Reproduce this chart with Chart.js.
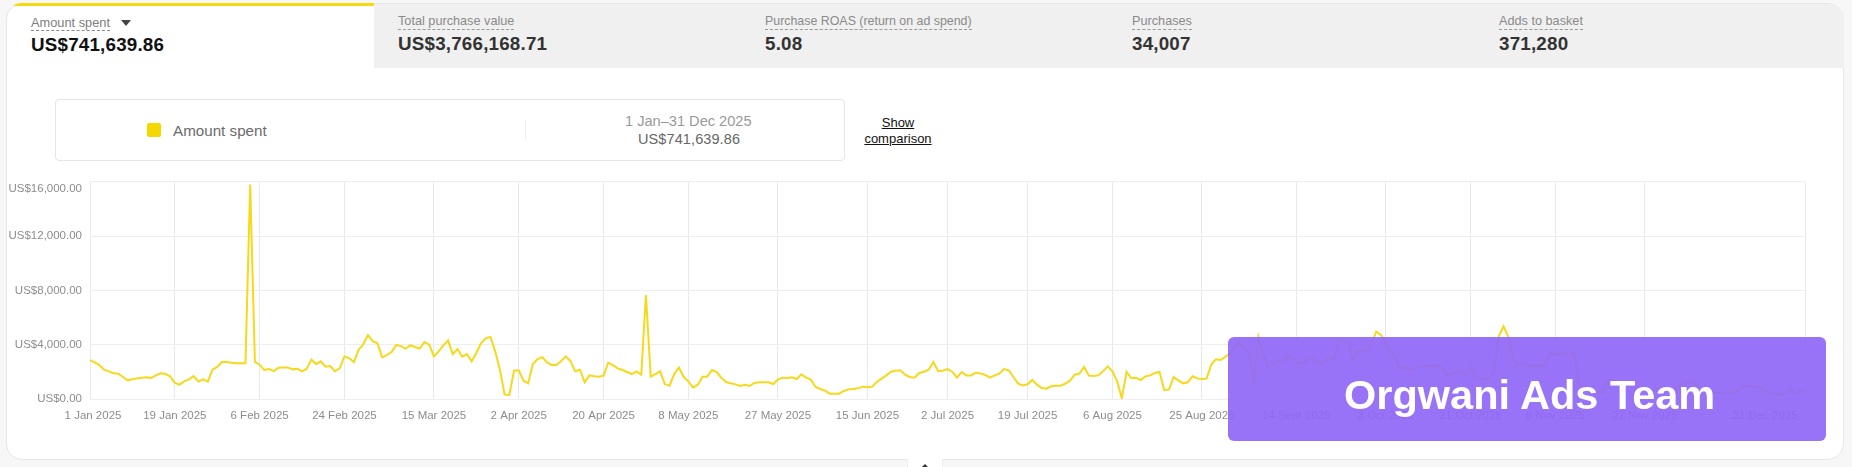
<!DOCTYPE html>
<html>
<head>
<meta charset="utf-8">
<script src="https://cdn.jsdelivr.net/npm/chart.js@4"></script>
<style>
html,body{margin:0;padding:0;width:1852px;height:467px;overflow:hidden;background:#f7f7f7;font-family:"Liberation Sans",Arial,sans-serif}
#card{position:absolute;left:6px;top:3px;width:1836px;height:455px;background:#fff;border:1px solid #e6e6e6;border-radius:16px;overflow:hidden;box-sizing:content-box}
#legend{position:absolute;left:55px;top:99px;width:788px;height:60px;border:1px solid #e6e6e6;border-radius:4px;background:#fff}
#sw{position:absolute;left:147px;top:123px;width:14px;height:14px;border-radius:2px;background:#f5d800}
.abs{position:absolute;white-space:nowrap}
canvas{position:absolute;left:0;top:167px}
#wm{position:absolute;left:1228px;top:337px;width:598px;height:104px;border-radius:6px;background:rgba(144,103,246,.92)}
#wmt{position:absolute;left:1228px;top:337px;width:598px;height:104px;color:#fff;font-weight:700;font-size:41.5px;white-space:nowrap}
#wmt span{position:absolute;left:116px;top:33px;line-height:50px}
#nub{position:absolute;left:907px;top:459px;width:36px;height:8px;background:#fff;border-left:1px solid #eee;border-right:1px solid #eee;box-sizing:border-box}
#nubg{position:absolute;left:922px;top:464px;width:0;height:0;border-left:3px solid transparent;border-right:3px solid transparent;border-bottom:3px solid #333}
</style>
</head>
<body>
<div id="card"></div>
<div style="position:absolute;left:6px;top:3px;width:1838px;height:65px;overflow:hidden;border-radius:16px 16px 0 0">
 <div style="position:absolute;left:368px;top:1px;right:0;bottom:0;background:#f0f0f0"></div>
 <div style="position:absolute;left:8px;top:0;width:360px;height:3px;background:#f5d90a"></div>
</div>
<div class="abs" style="left:31px;top:15px;font-size:12.8px;line-height:15px;color:#7d7d7d;border-bottom:1px dashed #888">Amount spent</div>
<div class="abs" style="left:121px;top:20px;width:0;height:0;border-left:5px solid transparent;border-right:5px solid transparent;border-top:6px solid #444"></div>
<div class="abs" style="left:31px;top:34px;font-size:18.8px;line-height:22px;font-weight:700;color:#111;letter-spacing:.2px">US$741,639.86</div>
<div id="tabTexts"></div>
<div id="legend"></div>
<div id="sw"></div>
<div class="abs" style="left:173px;top:122px;font-size:15.2px;line-height:18px;color:#6b6b6b">Amount spent</div>
<div class="abs" style="left:525px;top:120px;width:1px;height:20px;background:#eee"></div>
<div class="abs" style="left:625px;top:113px;font-size:14.6px;line-height:16px;color:#999">1 Jan&#8211;31 Dec 2025</div>
<div class="abs" style="left:638px;top:131px;font-size:14.5px;line-height:16px;color:#666;font-weight:400;letter-spacing:.1px">US$741,639.86</div>
<div class="abs" style="left:858px;top:115px;width:80px;text-align:center;font-size:13px;line-height:16px;color:#111;text-decoration:underline">Show<br>comparison</div>
<canvas id="c" width="1852" height="283" style="width:1852px;height:283px"></canvas>
<div id="wm"></div>
<div id="wmt"><span>Orgwani Ads Team</span></div>
<div id="nub"></div>
<div id="nubg"></div>
<script>
const tabLabels = ["Total purchase value", "Purchase ROAS (return on ad spend)", "Purchases", "Adds to basket"];
const tabValues = ["US$3,766,168.71", "5.08", "34,007", "371,280"];
const monthNames = ["Jan","Feb","Mar","Apr","May","Jun","Jul","Aug","Sept","Oct","Nov","Dec"];
const monthLengths = [31,28,31,30,31,30,31,31,30,31,30,31];
const tickDays = [0,18,36,54,73,91,109,127,146,165,182,199,217,236,256,275,293,311,330,364];
const yTicks = [0,4000,8000,12000,16000];
const amountSpent = [
2870,2700,2500,2160,2040,1890,1870,1620,1375,1450,1520,1570,1600,1550,1740,1890,1840,1670,1180,1055,
1300,1450,1690,1280,1450,1280,2160,2360,2725,2725,2680,2630,2630,2630,15800,2725,2530,2140,2210,2060,
2310,2330,2330,2185,2235,2040,2235,2900,2580,2775,2380,2430,2040,2260,3140,3020,2725,3610,4030,4710,
4270,4120,3070,3240,3460,3980,3900,3710,3950,3830,3710,4200,4000,3140,3510,3950,4320,3310,3680,3120,
3310,2775,3390,4120,4470,4570,3510,2160,320,295,2090,2110,1350,1155,2580,2950,3090,2700,2500,2500,
2800,3140,2775,2040,2160,1230,1740,1670,1645,1720,2680,2500,2260,2135,1990,1840,2040,1790,7660,1645,
1840,2040,1100,980,1840,2310,1620,1300,835,1055,1645,1645,2135,1990,1570,1250,1155,1080,960,1055,
960,1180,1230,1230,1230,1105,1425,1570,1545,1595,1470,1815,1570,1425,885,735,615,395,395,395,
590,710,735,785,910,860,910,1250,1500,1740,2010,2090,2110,1790,1620,1570,1915,2010,2160,2725,
2060,2085,2210,2010,1570,1990,1740,1740,1940,1890,1770,1570,1740,1865,2210,2110,1620,1130,1005,1080,
1400,1055,810,760,935,980,980,1130,1350,1790,1865,2360,1720,1695,1740,2040,2405,2040,1300,50,
1990,1545,1570,1400,1670,1740,1915,1990,660,690,1620,1375,1155,1230,1670,1520,1470,1500,2555,2920,
2875,3120,3390,3830,4150,3800,3490,1200,4590,3370,2380,2650,2825,2650,3140,3140,2775,2600,2700,3140,
2900,2630,2700,3140,2825,4320,4320,4200,2825,3510,3630,3440,4120,4960,4720,4120,3510,3020,2160,2380,
2160,2260,2360,2405,2430,2430,2405,2330,1720,1865,1965,2060,1790,2405,1670,1470,1425,1470,2040,4620,
5350,4620,3140,2455,2650,2530,2405,2405,2405,2775,3390,3265,3390,3340,3265,3440,1030,910,800,680,
565,430,1280,1400,1250,1150,1100,1000,900,800,720,650,620,600,640,700,800,950,1050,1170,1280,1030,
725,560,460,420,465,465,540,420,665,960,960,960,860,715,465,420,370,325,465,665,370,665,540
];
const categories = [];
monthLengths.forEach((n, m) => { for (let d = 1; d <= n; d++) categories.push(d + " " + monthNames[m] + " 2025"); });

document.getElementById("tabTexts").innerHTML = tabLabels.map((l, i) => {
  const x = [398, 765, 1132, 1499][i];
  const fs = i === 1 ? 12.4 : 12.7;
  return '<div class="abs" style="left:' + x + 'px;top:14px;font-size:' + fs + 'px;line-height:15px;color:#8a8a8a;border-bottom:1px dashed #999">' + l + '</div>' +
         '<div class="abs" style="left:' + x + 'px;top:33px;font-size:18.8px;line-height:22px;font-weight:700;color:#333;letter-spacing:.2px">' + tabValues[i] + '</div>';
}).join("");

const nudgeLabels = {
  id: "nudgeLabels",
  afterLayout(chart) {
    const xi = chart.scales.x.getLabelItems();
    xi[0].options.translation[0] += 3;
    xi[xi.length - 1].options.translation[0] -= 40;
    const yi = chart.scales.y.getLabelItems();
    yi[yi.length - 1].options.translation[1] += 6.5;
  }
};

new Chart(document.getElementById("c"), {
  type: "line",
  plugins: [nudgeLabels],
  data: {
    labels: categories,
    datasets: [{ label: "Amount spent", data: amountSpent, borderColor: "#f5d91a", borderWidth: 2,
      pointRadius: 0, tension: 0, fill: false, borderJoinStyle: "miter" }]
  },
  options: {
    responsive: false, animation: false, devicePixelRatio: 1,
    layout: { padding: { left: 0, right: 47, top: 0, bottom: 0 } },
    plugins: { legend: { display: false }, tooltip: { enabled: false } },
    scales: {
      x: {
        type: "category",
        afterBuildTicks: s => { s.ticks = tickDays.map(v => ({ value: v })); },
        afterFit: s => { s.height = 51; },
        grid: { color: "#e9e9e9", lineWidth: 1, drawTicks: false },
        border: { display: false },
        ticks: { autoSkip: false, maxRotation: 0, minRotation: 0, padding: 10, color: "#8c8c8c",
          font: { family: "Liberation Sans", size: 11.5 } }
      },
      y: {
        min: 0, max: 16000,
        afterBuildTicks: s => { s.ticks = yTicks.map(v => ({ value: v })); },
        afterFit: s => { s.width = 90; },
        grid: { color: "#eeeeee", lineWidth: 1, drawTicks: false },
        border: { display: false },
        ticks: { padding: 8, color: "#8c8c8c", font: { family: "Liberation Sans", size: 11.5 },
          callback: v => "US$" + v.toLocaleString("en-US", { minimumFractionDigits: 2, maximumFractionDigits: 2 }) }
      }
    }
  }
});
</script>
</body>
</html>
